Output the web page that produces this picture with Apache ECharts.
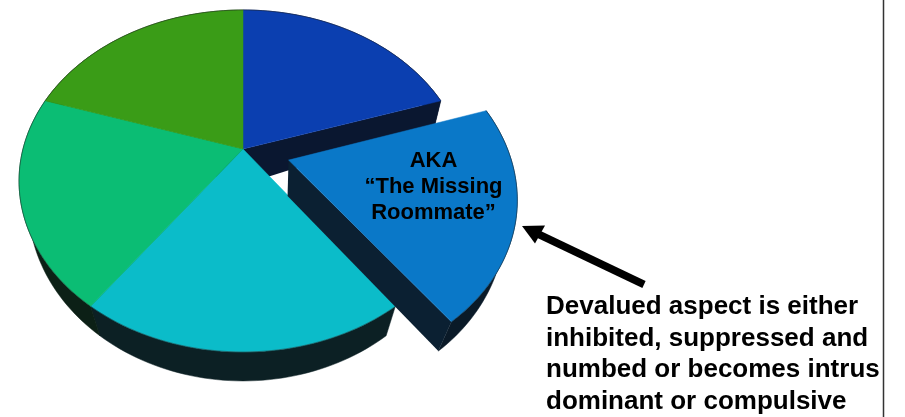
<!DOCTYPE html>
<html>
<head>
<meta charset="utf-8">
<style>html,body{margin:0;padding:0;background:#fff}#c{width:905px;height:417px}</style>
<script src="https://cdn.jsdelivr.net/npm/echarts@6/dist/echarts.min.js"></script>
</head>
<body>
<div id="c"></div>
<script>
// Pie segments, clockwise from twelve o'clock
const segments = ['Aspect 1', 'Devalued aspect', 'Aspect 3', 'Aspect 4', 'Aspect 5'];
const shares = [20, 20, 20, 20, 20];
const pulled = [0, 0.215, 0, 0, 0];
const faceColors = ['#0b3fb0', '#0a78c8', '#0bbcc9', '#0bbd74', '#3a9c17'];
const wallColors = ['#0a1730', '#0b2032', '#0c2024', '#0c2016', '#0c2016'];
const rimColors = ['#0a1730', '#0a1a28', '#0c2024', '#0c2016', '#0c2016'];
const insideLabel = ['AKA', '\u201CThe Missing', 'Roommate\u201D'];
const noteLines = ['Devalued aspect is either', 'inhibited, suppressed and', 'numbed or becomes intrus', 'dominant or compulsive'];

// Perspective of the disc: top plane and the smaller bottom plane
const topPlane = { cx: 243, cy: 149, rx: 220, ry: 165, k: 0.187 };
const lowPlane = { cx: 243, cy: 175, rx: 212, ry: 173, k: 0.16 };
const apexDrop = 36;
const project = (p, x, y) => {
  const w = 1 + p.k * y;
  return [p.cx + p.rx * x / w, p.cy - p.ry * y / w];
};

const total = shares.reduce((a, b) => a + b, 0);
function sliceGeometry(i) {
  const before = shares.slice(0, i).reduce((a, b) => a + b, 0);
  const a0 = Math.PI / 2 - before / total * 2 * Math.PI;
  const a1 = a0 - shares[i] / total * 2 * Math.PI;
  const mid = (a0 + a1) / 2;
  const ox = pulled[i] * Math.cos(mid), oy = pulled[i] * Math.sin(mid);
  const n = 48, upper = [], lower = [];
  for (let s = 0; s <= n; s++) {
    const a = a0 + (a1 - a0) * s / n;
    const x = Math.cos(a) + ox, y = Math.sin(a) + oy;
    upper.push(project(topPlane, x, y));
    lower.push(project(lowPlane, x, y));
  }
  const apex = project(topPlane, ox, oy);
  return { upper, lower, apex, apexLow: [apex[0] - 1, apex[1] + apexDrop] };
}

function sideShapes(i) {
  const g = sliceGeometry(i);
  const rim = g.upper.concat(g.lower.slice().reverse());
  const wall = [g.apex, g.upper[g.upper.length - 1], g.lower[g.lower.length - 1], g.apexLow];
  return [
    { type: 'polygon', shape: { points: rim }, style: { fill: rimColors[i], stroke: rimColors[i], lineWidth: 0.5 } },
    { type: 'polygon', shape: { points: wall }, style: { fill: wallColors[i] } }
  ];
}
function faceShapes(i) {
  const g = sliceGeometry(i);
  return [
    { type: 'polygon', shape: { points: [g.apex].concat(g.upper) }, style: { fill: faceColors[i], stroke: faceColors[i], lineWidth: 0.5 } },
    { type: 'polyline', shape: { points: g.upper }, style: { fill: null, stroke: 'rgba(30,30,30,0.4)', lineWidth: 1 } }
  ];
}
const layer = (z, keep, build) => ({
  type: 'custom',
  coordinateSystem: 'none',
  z,
  silent: true,
  animation: false,
  clip: false,
  data: segments.map((name, i) => ({ name, value: [i, shares[i]] })),
  renderItem: (params, api) => {
    const i = api.value(0);
    return keep(i) ? { type: 'group', children: build(i) } : null;
  }
});
const isMain = i => pulled[i] === 0;
const isPulled = i => pulled[i] > 0;

const textStyle = (text, x, y, size, align) => ({
  type: 'text', x, y, z: 20, silent: true,
  style: { text, fill: '#000', fontFamily: '"Liberation Sans", Arial, sans-serif', fontWeight: 'bold', fontSize: size, align, verticalAlign: 'middle' }
});
const insideY = [160.5, 186.5, 213];
const noteY = [307, 338.5, 370, 401.5];

const chart = echarts.init(document.getElementById('c'), null, { renderer: 'canvas' });
chart.setOption({
  animation: false,
  backgroundColor: '#fff',
  series: [
    layer(2, isMain, sideShapes),
    layer(3, isMain, faceShapes),
    layer(4, isPulled, sideShapes),
    layer(5, isPulled, faceShapes)
  ],
  graphic: [
    { type: 'line', z: 20, silent: true, shape: { x1: 883.5, y1: 0, x2: 883.5, y2: 417 }, style: { stroke: '#333', lineWidth: 1.5 } },
    { type: 'line', z: 20, silent: true, shape: { x1: 644, y1: 284.5, x2: 537, y2: 233.5 }, style: { stroke: '#000', lineWidth: 7.5 } },
    { type: 'polygon', z: 20, silent: true, shape: { points: [[522, 226], [545, 225.5], [535, 243.5]] }, style: { fill: '#000' } }
  ].concat(
    insideLabel.map((t, i) => textStyle(t, 433.5, insideY[i], 22, 'center')),
    noteLines.map((t, i) => textStyle(t, 546, noteY[i], 26, 'left'))
  )
});
</script>
</body>
</html>
